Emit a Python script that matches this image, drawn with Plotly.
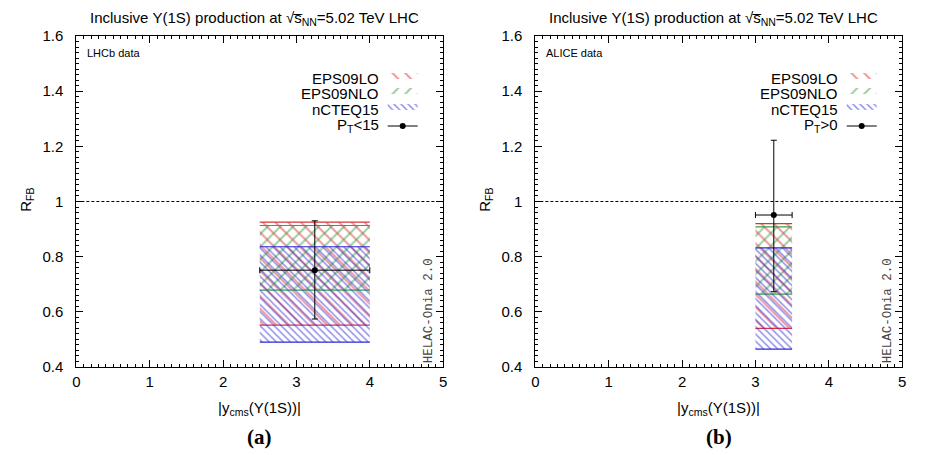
import plotly.graph_objects as go

# ---------------- data ----------------
panel_labels = ["(a)", "(b)"]
experiment = ["LHCb data", "ALICE data"]
pt_label = ["P<sub>T</sub><15", "P<sub>T</sub>>0"]
x_lo = [2.5, 3.0]
x_hi = [4.0, 3.5]
x_pt = [3.25, 3.25]
eps09lo_lo = [0.552, 0.540]
eps09lo_hi = [0.925, 0.920]
eps09nlo_lo = [0.679, 0.664]
eps09nlo_hi = [0.913, 0.908]
ncteq15_lo = [0.490, 0.465]
ncteq15_hi = [0.836, 0.832]
data_y = [0.751, 0.951]
data_err_plus = [0.179, 0.271]
data_err_minus = [0.177, 0.278]
band_names = ["EPS09LO", "EPS09NLO", "nCTEQ15"]

RED = "#e0303c"
GREEN = "#3aa040"
BLUE = "#2a2ad8"

W, H = 925, 455
T, B = 36, 88
PH = H - T - B
dom_px = [(73, 443), (536, 906)]


def px_x(p):
    return p / W


def px_y(p):
    return (H - B - p) / PH


fig = go.Figure()
bands = [
    (eps09lo_lo, eps09lo_hi, RED, "\\", 9, 0.22),
    (eps09nlo_lo, eps09nlo_hi, GREEN, "/", 9, 0.22),
    (ncteq15_lo, ncteq15_hi, BLUE, "\\", 5, 0.32),
]
leg_rows_px = [78, 93, 109, 125]
legend_layouts = {}
annotations = []
shapes = []
lid = 0


def ann(text, x, y, xanchor="center", yanchor="middle", **kw):
    d = dict(text=text, x=x, y=y, xref="paper", yref="paper", xanchor=xanchor,
             yanchor=yanchor, showarrow=False)
    d.update(kw)
    return d


for i in range(2):
    xa = "x" if i == 0 else "x2"
    ya = "y" if i == 0 else "y2"
    off = dom_px[i][0] - dom_px[0][0]
    for j, (lo, hi, col, shp, sz, sol) in enumerate(bands):
        lid += 1
        lname = "legend" if lid == 1 else f"legend{lid}"
        fig.add_trace(go.Scatter(
            x=[x_lo[i], x_hi[i], x_hi[i], x_lo[i], x_lo[i]],
            y=[lo[i], lo[i], hi[i], hi[i], lo[i]],
            fill="toself", mode="none", name=" ",
            fillcolor="rgba(0,0,0,0)",
            fillpattern=dict(shape=shp, fgcolor=col, bgcolor="rgba(0,0,0,0)",
                             size=sz, solidity=sol),
            xaxis=xa, yaxis=ya, legend=lname, showlegend=True,
            hoverinfo="skip"))
        fig.add_trace(go.Scatter(
            x=[x_lo[i], x_hi[i], None, x_lo[i], x_hi[i]],
            y=[lo[i], lo[i], None, hi[i], hi[i]],
            mode="lines", line=dict(color=col, width=1.2),
            xaxis=xa, yaxis=ya, showlegend=False, hoverinfo="skip"))
        legend_layouts[lname] = dict(
            x=px_x(382 + off), y=px_y(leg_rows_px[j] - 2), xanchor="left", yanchor="middle",
            bgcolor="rgba(0,0,0,0)", borderwidth=0, font=dict(size=6),
            itemwidth=30, tracegroupgap=0)
        annotations.append(ann(band_names[j], px_x(380 + off), px_y(leg_rows_px[j]),
                               xanchor="right", font=dict(size=15, color="black")))
    lid += 1
    lname = f"legend{lid}"
    fig.add_trace(go.Scatter(
        x=[x_pt[i]], y=[data_y[i]], mode="lines+markers", name=" ",
        marker=dict(color="black", size=6),
        line=dict(color="black", width=1),
        error_y=dict(type="data", symmetric=False, array=[data_err_plus[i]],
                     arrayminus=[data_err_minus[i]], color="black", thickness=1, width=3),
        error_x=dict(type="data", symmetric=False, array=[x_hi[i] - x_pt[i]],
                     arrayminus=[x_pt[i] - x_lo[i]], color="black", thickness=1, width=3),
        xaxis=xa, yaxis=ya, legend=lname, hoverinfo="skip"))
    legend_layouts[lname] = dict(
        x=px_x(382 + off), y=px_y(leg_rows_px[3] + 1), xanchor="left", yanchor="middle",
        bgcolor="rgba(0,0,0,0)", borderwidth=0, font=dict(size=6),
        itemwidth=30, tracegroupgap=0)
    annotations.append(ann(pt_label[i], px_x(380 + off), px_y(leg_rows_px[3]),
                           xanchor="right", font=dict(size=15, color="black")))

    # reference line at 1
    shapes.append(dict(type="line", xref=f"{xa} domain", yref=ya, x0=0, x1=1, y0=1, y1=1,
                       line=dict(color="black", width=1, dash="3px,2px")))

    cx = (dom_px[i][0] + dom_px[i][1]) / 2
    annotations += [
        ann("Inclusive \u03a5(1S) production at \u221as\u0305<sub>NN</sub>=5.02 TeV LHC",
            px_x(cx - 5), px_y(18), font=dict(size=15, color="black")),
        ann(experiment[i], px_x(82 + off), px_y(53), xanchor="left",
            font=dict(size=11, color="black")),
        ann("HELAC-Onia 2.0", px_x(429 + off), px_y(311), textangle=-90,
            font=dict(size=12.5, color="#444", family="Liberation Mono")),
        ann("R<sub>FB</sub>", px_x(22 + off), px_y(200), textangle=-90,
            font=dict(size=15, color="black")),
        ann("|y<sub>cms</sub>(\u03a5(1S))|", px_x(cx), px_y(408),
            font=dict(size=15, color="black")),
        ann("<b>" + panel_labels[i] + "</b>", px_x(cx), px_y(437),
            font=dict(size=21, color="black", family="Liberation Serif")),
    ]

axis_common = dict(showline=True, linecolor="black", linewidth=1, mirror="allticks",
                   ticks="inside", ticklen=7, tickcolor="black", showgrid=False,
                   zeroline=False, tickfont=dict(size=15, color="black"))
xminor = dict(ticks="inside", ticklen=3, dtick=0.1, tickcolor="black")
yminor = dict(ticks="inside", ticklen=3, dtick=0.02, tickcolor="black")
layout = dict(
    width=W, height=H, margin=dict(l=0, r=0, t=T, b=B),
    paper_bgcolor="white", plot_bgcolor="white",
    font=dict(family="Liberation Sans, Arial, sans-serif", color="black"),
    shapes=shapes, annotations=annotations,
    xaxis=dict(domain=[px_x(dom_px[0][0]), px_x(dom_px[0][1])], range=[0, 5], dtick=1, tick0=0,
               anchor="y", minor=xminor, ticklabelstandoff=1, **axis_common),
    xaxis2=dict(domain=[px_x(dom_px[1][0]), px_x(dom_px[1][1])], range=[0, 5], dtick=1, tick0=0,
                anchor="y2", minor=xminor, ticklabelstandoff=1, **axis_common),
    yaxis=dict(domain=[0, 1], range=[0.4, 1.6], dtick=0.2, tick0=0.4, anchor="x",
               minor=yminor, ticklabelstandoff=9, **axis_common),
    yaxis2=dict(domain=[0, 1], range=[0.4, 1.6], dtick=0.2, tick0=0.4, anchor="x2",
                minor=yminor, ticklabelstandoff=9, **axis_common),
)
layout.update(legend_layouts)
fig.update_layout(**layout)
fig.write_html("out.html")
